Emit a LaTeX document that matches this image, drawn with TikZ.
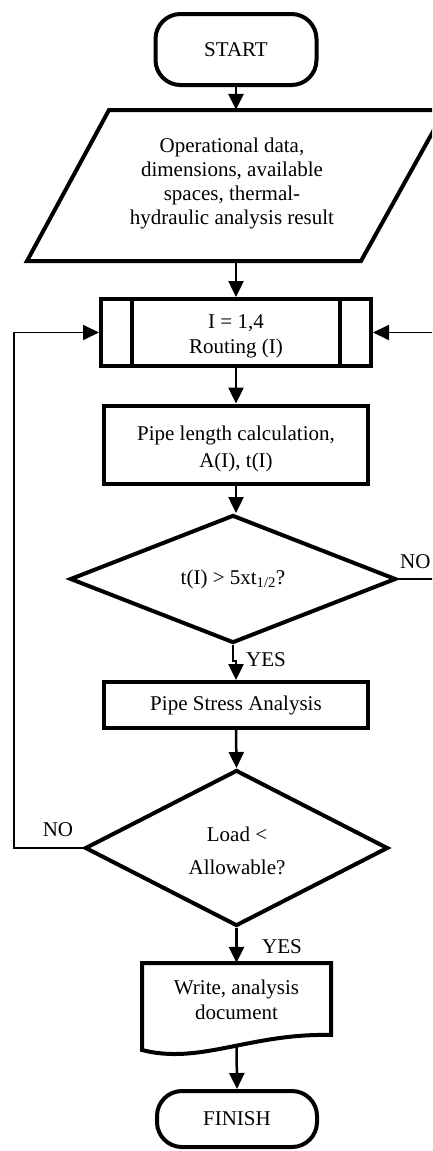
\documentclass[tikz,border=0pt]{standalone}
\usepackage{fontspec}
\setmainfont{Liberation Serif}
\usetikzlibrary{arrows.meta,shapes.geometric}
\begin{document}
\begin{tikzpicture}[x=1pt,y=-1pt,
  font=\fontsize{21}{25}\selectfont,
  term/.style={draw,line width=4pt,rounded corners=25pt,minimum width=161pt,minimum height=71pt,inner sep=0pt},
  proc/.style={draw,line width=4pt,minimum width=264pt,align=center,inner sep=0pt},
  dec/.style={draw,diamond,line width=4pt,inner sep=0pt,shape aspect=2.5,align=center},
  ghost/.style={inner sep=0pt,minimum width=10pt},
  txt/.style={align=center,inner sep=0pt},
  arr/.style={line width=2.5pt,-{Triangle[length=16pt,width=15pt]}},
  back/.style={line width=1.8pt,-{Triangle[length=16pt,width=15pt]}},
  lbl/.style={inner sep=0pt,anchor=west}]
\useasboundingbox (0,0) rectangle (432,1151);
\clip (0,0) rectangle (432,1151);

\node[term] (start) at (236,49.5) {START};

\node[ghost,minimum height=151pt] (inp) at (236,185.5) {};
\draw[line width=4pt] (109,110) -- (445,110) -- (361,261) -- (27,261) -- cycle;
\node[txt,font=\fontsize{21}{24}\selectfont] (inptext) at (232,183)
  {Operational data,\\dimensions, available\\spaces, thermal-\\hydraulic analysis result};

\node[proc,minimum width=270pt,minimum height=67pt] (route) at (236,332.5) {};
\draw[line width=4pt] ([xshift=33pt]route.north west) -- ([xshift=33pt]route.south west);
\draw[line width=4pt] ([xshift=-33pt]route.north east) -- ([xshift=-33pt]route.south east);
\node[txt] (routetext) at (236,336) {I = 1,4\\Routing (I)};

\node[proc,minimum height=78pt] (len) at (236,444.5) {};
\node[txt,font=\fontsize{21}{27}\selectfont] (lentext) at (236,449) {Pipe length calculation,\\A(I), t(I)};

\node[dec,minimum width=326pt,minimum height=128pt] (d1) at (233,579) {t(I) > 5xt\textsubscript{1/2}?};

\node[proc,minimum height=46pt] (stress) at (236,705) {Pipe Stress Analysis};

\node[dec,minimum width=303pt,minimum height=156pt] (d2) at (236.5,848) {};
\node[txt] (d2text) at (237,851) {Load <\\[8pt]Allowable?};

\node[ghost,minimum height=82pt] (doc) at (236.5,1004) {};
\draw[line width=4pt] (142,1050) -- (142,963) -- (331,963) -- (331,1035)
  .. controls (250,1033) and (200,1065) .. (142,1050) -- cycle;
\node[txt] (doctext) at (236.5,1000) {Write, analysis\\document};

\node[term,minimum width=160pt,minimum height=56pt] (finish) at (237,1119) {FINISH};

\draw[arr] (start.south) -- (inp.north);
\draw[arr] (inp.south) -- (route.north);
\draw[arr] (route.south) -- (len.north);
\draw[arr] (len.south) -- (len.south |- d1.north);
\draw[arr] (d1.south) -- ++(0,16) -| (stress.north);
\draw[arr] (stress.south) -- (d2.north);
\draw[arr] (d2.south) -- (doc.north);
\draw[arr] (doc.south) -- (finish.north);
\draw[back] (d1.east) -- ++(50,0) |- (route.east);
\draw[back] (d2.west) -- ++(-69,0) |- (route.west);

\node[lbl] (yes1) at (246,660) {YES};
\node[lbl] (yes2) at (262,947) {YES};
\node[lbl] (no1) at (400,562) {NO};
\node[inner sep=0pt] (no2) at (58,830) {NO};
\end{tikzpicture}
\end{document}
